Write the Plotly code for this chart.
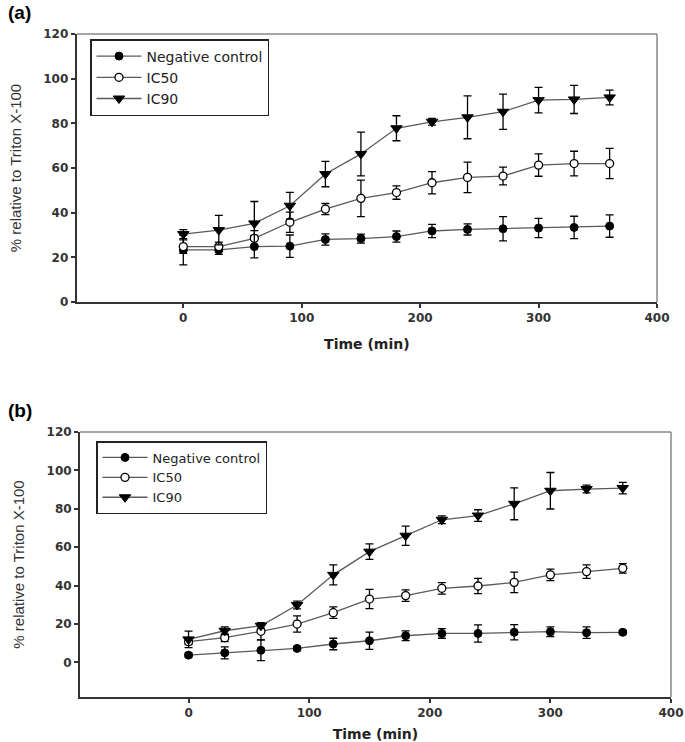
import plotly.graph_objects as go

# ---------------- data ----------------
time_min = [0, 30, 60, 90, 120, 150, 180, 210, 240, 270, 300, 330, 360]
series_names = ["Negative control", "IC50", "IC90"]

# panel (a)
a_nc = [23.3, 23.3, 24.8, 25.0, 28.0, 28.4, 29.3, 31.8, 32.5, 32.8, 33.1, 33.4, 34.0]
a_nc_err = [6.7, 2.0, 5.0, 5.0, 2.5, 2.0, 2.5, 3.0, 2.5, 5.4, 4.3, 5.0, 5.0]
a_ic50 = [24.8, 24.8, 28.5, 35.7, 41.6, 46.4, 49.0, 53.4, 55.8, 56.4, 61.3, 62.0, 62.0]
a_ic50_err = [3.0, 2.0, 3.5, 4.5, 2.5, 8.2, 3.0, 5.0, 6.8, 4.0, 5.0, 5.5, 6.8]
a_ic90 = [30.4, 32.2, 35.2, 43.1, 57.3, 66.3, 77.8, 80.7, 82.7, 85.2, 90.4, 90.7, 91.6]
a_ic90_err = [2.0, 6.6, 9.8, 6.0, 5.7, 9.8, 5.6, 1.5, 9.6, 7.9, 5.7, 6.3, 3.3]

# panel (b)
b_nc = [3.8, 5.0, 6.3, 7.3, 9.6, 11.3, 13.9, 15.1, 15.1, 15.7, 16.0, 15.5, 15.7]
b_nc_err = [1.0, 3.1, 5.4, 1.0, 3.0, 4.5, 2.5, 2.5, 4.5, 4.0, 2.5, 3.0, 1.0]
b_ic50 = [10.8, 12.9, 16.2, 20.0, 25.9, 33.0, 34.8, 38.6, 39.8, 41.7, 45.6, 47.3, 49.0]
b_ic50_err = [1.5, 2.0, 4.5, 4.2, 3.0, 5.0, 3.0, 3.0, 4.0, 5.3, 3.0, 3.5, 2.5]
b_ic90 = [12.0, 16.5, 19.1, 29.9, 45.6, 57.7, 66.0, 74.3, 76.5, 82.6, 89.4, 90.3, 90.8]
b_ic90_err = [4.3, 2.0, 1.2, 2.0, 5.2, 4.0, 5.0, 2.0, 3.0, 8.3, 9.5, 2.0, 3.0]

x_ticks = [0, 100, 200, 300, 400]
y_ticks = [0, 20, 40, 60, 80, 100, 120]

# ---------------- styles ----------------
LINE_COLOR = "#5a5a5a"
markers = [
    dict(symbol="circle", size=8, color="black", line=dict(color="black", width=1)),
    dict(symbol="circle", size=8, color="white", line=dict(color="black", width=1.3)),
    dict(symbol="triangle-down", size=10, color="black", line=dict(color="black", width=1)),
]
SANS = "DejaVu Sans, Verdana, sans-serif"
FONT_TICK = dict(family=SANS, size=12, color="#333", weight="bold")
FONT_XT = dict(family=SANS, size=14, color="#222", weight="bold")
FONT_YT = dict(family="Liberation Sans Narrow, Arial Narrow, Liberation Sans, Arial, sans-serif",
               size=15, color="#333")

fig = go.Figure()

panels = [
    (a_nc, a_nc_err, a_ic50, a_ic50_err, a_ic90, a_ic90_err, "x", "y", "legend"),
    (b_nc, b_nc_err, b_ic50, b_ic50_err, b_ic90, b_ic90_err, "x2", "y2", "legend2"),
]
for (nc, nce, i5, i5e, i9, i9e, xa, ya, lg) in panels:
    for name, ys, es, mk in zip(series_names, [nc, i5, i9], [nce, i5e, i9e], markers):
        fig.add_trace(go.Scatter(
            x=time_min, y=ys, name=name, mode="lines+markers",
            line=dict(color=LINE_COLOR, width=1.3),
            marker=mk,
            error_y=dict(type="data", array=es, visible=True, color="black",
                         thickness=1.3, width=4),
            xaxis=xa, yaxis=ya, legend=lg,
        ))

W, H = 685, 742
# pixel geometry of plot areas
a_l, a_r, a_t, a_b = 76.7, 657.0, 34.0, 302.0
b_l, b_r, b_t, b_b = 80.0, 671.0, 432.0, 697.0

def xdom(l, r):
    return [l / W, r / W]

def ydom(t, b):
    return [1 - b / H, 1 - t / H]

axis_common = dict(showgrid=False, zeroline=False, showline=True, linecolor="#333",
                   linewidth=2, ticks="outside", tickcolor="#333", tickwidth=1.5,
                   ticklen=4, tickfont=FONT_TICK, mirror=False, automargin=False)

fig.update_layout(
    width=W, height=H,
    margin=dict(l=0, r=0, t=0, b=0),
    paper_bgcolor="white", plot_bgcolor="white",
    xaxis=dict(domain=xdom(a_l, a_r), anchor="y", range=[-90, 400], tickvals=x_ticks,
               title=dict(text="Time (min)", font=FONT_XT, standoff=15), **axis_common),
    yaxis=dict(domain=ydom(a_t, a_b), anchor="x", range=[0, 120], tickvals=y_ticks,
               title=dict(text="% relative to Triton X-100", font=FONT_YT, standoff=18),
               **axis_common),
    xaxis2=dict(domain=xdom(b_l, b_r), anchor="y2", range=[-90, 400], tickvals=x_ticks,
                title=dict(text="Time (min)", font=FONT_XT, standoff=10), **axis_common),
    yaxis2=dict(domain=ydom(b_t, b_b), anchor="x2", range=[-18, 120], tickvals=y_ticks,
                title=dict(text="% relative to Triton X-100", font=FONT_YT, standoff=18),
                **axis_common),
    legend=dict(x=90 / W, y=1 - 39 / H, xanchor="left", yanchor="top",
                bgcolor="white", bordercolor="#222", borderwidth=1.5,
                font=dict(family=SANS, size=14, color="#222"),
                tracegroupgap=0, itemwidth=45),
    legend2=dict(x=96 / W, y=1 - 441 / H, xanchor="left", yanchor="top",
                 bgcolor="white", bordercolor="#222", borderwidth=1.5,
                 font=dict(family=SANS, size=13, color="#222"),
                 tracegroupgap=0, itemwidth=45),
    showlegend=True,
)

# thin top / right frame lines
for xr, yr in [("x", "y"), ("x2", "y2")]:
    fig.add_shape(type="line", xref=f"{xr} domain", yref=f"{yr} domain",
                  x0=0, x1=1, y0=1, y1=1, line=dict(color="#888", width=1.5))
    fig.add_shape(type="line", xref=f"{xr} domain", yref=f"{yr} domain",
                  x0=1, x1=1, y0=0, y1=1, line=dict(color="#888", width=1.5))

# panel labels
fig.add_annotation(text="<b>(a)</b>", x=6 / W, y=1 - 0 / H, xref="paper", yref="paper",
                   xanchor="left", yanchor="top", showarrow=False,
                   font=dict(family="Liberation Sans, Arial, sans-serif", size=19, color="black"))
fig.add_annotation(text="<b>(b)</b>", x=6 / W, y=1 - 398 / H, xref="paper", yref="paper",
                   xanchor="left", yanchor="top", showarrow=False,
                   font=dict(family="Liberation Sans, Arial, sans-serif", size=19, color="black"))

fig.write_html("out.html", config={"displayModeBar": False},
               post_script="document.body.style.margin='0px';")
